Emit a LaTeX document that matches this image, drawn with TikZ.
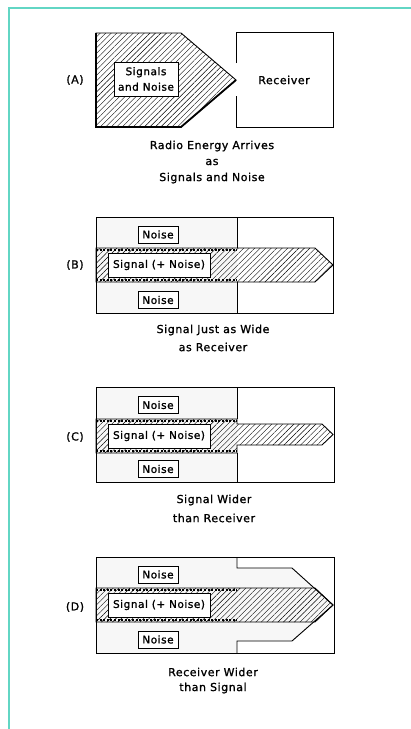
\documentclass[tikz,border=0pt]{standalone}
\usepackage{fontspec}
\setmainfont{DejaVu Sans}[LetterSpace=5,FakeBold=1.2]
\usetikzlibrary{patterns.meta}
\definecolor{framecol}{RGB}{98,214,196}
\begin{document}
\begin{tikzpicture}[x=1pt,y=-1pt,
  txt/.style={font=\fontsize{11}{13.5}\selectfont, inner sep=0pt, align=center},
  lbl/.style={draw, line width=0.9pt, fill=white, inner sep=0pt, font=\fontsize{10.5}{12.5}\selectfont, align=center},
  hatch/.style={pattern={Lines[angle=45,distance=3.9pt,line width=0.4pt]}},
  noisefill/.style={fill=black!3},
  edge/.style={line width=0.9pt},
  strip/.style={line width=2pt, dash pattern=on 2pt off 1.6pt},
  ]
\useasboundingbox (0,0) rectangle (411,729);
\fill[white] (0,0) rectangle (411,729);
\draw[framecol, line width=2pt] (9,729) -- (9,8) -- (411,8);

% ---------- Panel A ----------
\draw[hatch, edge] (96,33) -- (181,33) -- (236,80) -- (181,127) -- (96,127) -- cycle;
\draw[line width=1.8pt] (96,33) -- (96,127) -- (181,127) -- (236,80);
\node[lbl, minimum width=64pt, minimum height=34pt] (sigA) at (146,79) {Signals\\[3pt]and Noise};
\draw[line width=1pt] (236,63) -- (236,32) -- (333,32) -- (333,127) -- (236,127) -- (236,96);
\node[txt] (rcvA) at (284,80) {Receiver};
\node[txt] (labA) at (75,80) {(A)};
\node[txt] (capA1) at (212,146) {Radio Energy Arrives};
\node[txt] (capA2) at (212,162) {as};
\node[txt] (capA3) at (212,178) {Signals and Noise};

% ---------- Panel B ----------
\fill[noisefill] (96,217) rectangle (237,313);
\draw[hatch, edge] (96,248) -- (315,248) -- (333,265) -- (315,282) -- (96,282) -- cycle;
\draw[strip] (96,250) -- (237,250);
\draw[strip] (96,280) -- (237,280);
\draw[edge] (96,217) rectangle (333,313);
\draw[edge] (237,217) -- (237,248);
\draw[edge] (237,282) -- (237,313);
\node[lbl, minimum width=40pt, minimum height=17pt] (nB1) at (158,234.5) {Noise};
\node[lbl, minimum width=40pt, minimum height=17pt] (nB2) at (158,300) {Noise};
\node[lbl, minimum width=102pt, minimum height=24pt] (sB) at (159,265) {Signal (+ Noise)};
\node[txt] (labB) at (75,265) {(B)};
\node[txt] (capB1) at (213,330) {Signal Just as Wide};
\node[txt] (capB2) at (213,347) {as Receiver};

% ---------- Panel C ----------
\fill[noisefill] (96,387) rectangle (237,482);
\draw[hatch, edge] (96,419) -- (237,419) -- (237,424) -- (322,424) -- (333,434.5) -- (322,445) -- (237,445) -- (237,453) -- (96,453) -- cycle;
\draw[strip] (96,421) -- (237,421);
\draw[strip] (96,451) -- (237,451);
\draw[edge] (96,387) rectangle (334,482);
\draw[edge] (237,387) -- (237,419);
\draw[edge] (237,453) -- (237,482);
\node[lbl, minimum width=40pt, minimum height=17pt] (nC1) at (158,405) {Noise};
\node[lbl, minimum width=40pt, minimum height=17pt] (nC2) at (158,469) {Noise};
\node[lbl, minimum width=102pt, minimum height=24pt] (sC) at (159,436) {Signal (+ Noise)};
\node[txt] (labC) at (75,437) {(C)};
\node[txt] (capC1) at (214,500) {Signal Wider};
\node[txt] (capC2) at (214,518) {than Receiver};

% ---------- Panel D ----------
\fill[noisefill] (96,557) rectangle (237,653);
\fill[noisefill] (237,568) -- (292,568) -- (333,605) -- (292,641) -- (237,641) -- cycle;
\draw[hatch, edge] (96,588) -- (315,588) -- (333,605) -- (315,622) -- (96,622) -- cycle;
\draw[strip] (96,590) -- (237,590);
\draw[strip] (96,620) -- (237,620);
\draw[edge] (96,557) rectangle (334,653);
\draw[edge] (237,557) -- (237,568) -- (292,568) -- (333,605) -- (292,641) -- (237,641) -- (237,653);
\node[lbl, minimum width=40pt, minimum height=17pt] (nD1) at (158,574.5) {Noise};
\node[lbl, minimum width=40pt, minimum height=17pt] (nD2) at (158,639.5) {Noise};
\node[lbl, minimum width=102pt, minimum height=24pt] (sD) at (159,605) {Signal (+ Noise)};
\node[txt] (labD) at (75,607) {(D)};
\node[txt] (capD1) at (213,672) {Receiver Wider};
\node[txt] (capD2) at (213,688) {than Signal};
\end{tikzpicture}
\end{document}
